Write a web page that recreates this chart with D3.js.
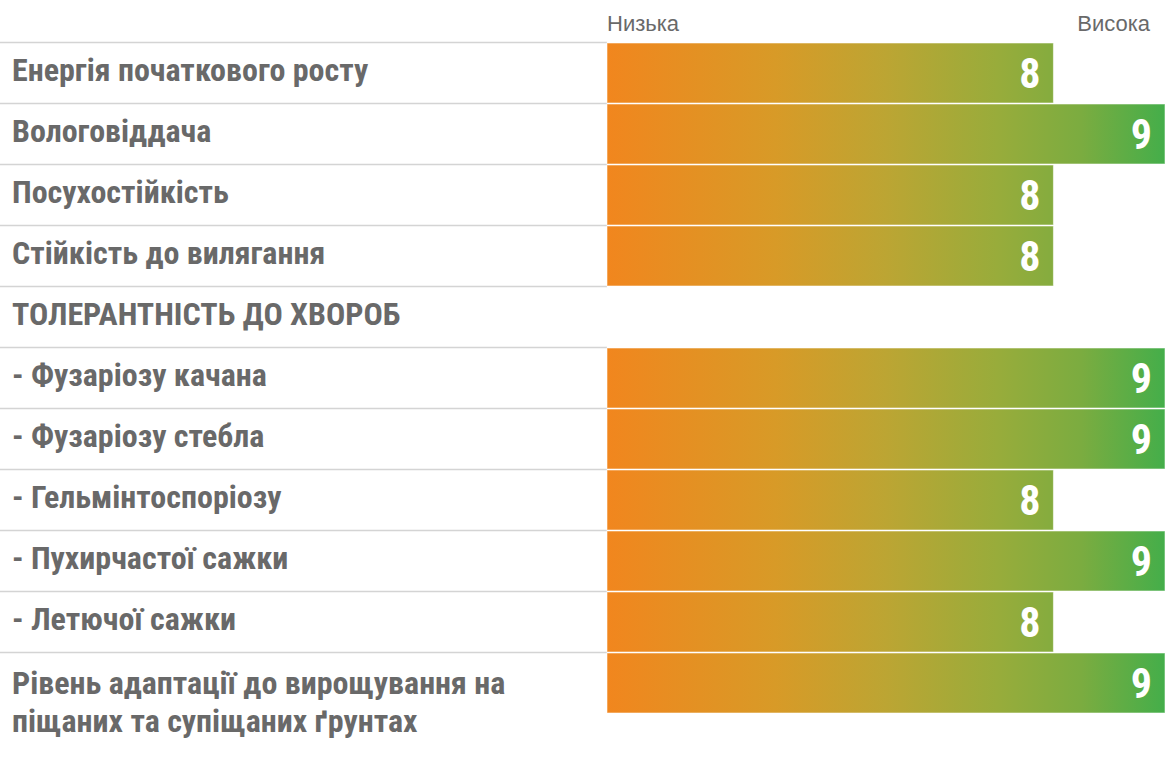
<!DOCTYPE html>
<html>
<head>
<meta charset="utf-8">
<script src="https://cdn.jsdelivr.net/npm/d3@7"></script>
<style>
  html, body { margin: 0; padding: 0; background: #ffffff; }
  svg { display: block; }
</style>
</head>
<body>
<svg id="chart" width="1171" height="757"></svg>
<script>
// ---- data ----
const categories = [
  "Енергія початкового росту",
  "Вологовіддача",
  "Посухостійкість",
  "Стійкість до вилягання",
  "ТОЛЕРАНТНІСТЬ ДО ХВОРОБ",
  "- Фузаріозу качана",
  "- Фузаріозу стебла",
  "- Гельмінтоспоріозу",
  "- Пухирчастої сажки",
  "- Летючої сажки",
  "Рівень адаптації до вирощування на|піщаних та супіщаних ґрунтах"
];
const values = [8, 9, 8, 8, null, 9, 9, 8, 9, 8, 9];
const scaleLabels = ["Низька", "Висока"];
const scaleDomain = [4, 9];

// ---- layout ----
const W = 1171, H = 757;
const top0 = 42, rowH = 61;
const barX0 = 607, barX1 = 1165;
const labelFont = "'Liberation Sans Narrow', 'Roboto Condensed', 'Arial Narrow', sans-serif";
const textColor = "#696969";

const svg = d3.select("#chart");

const x = d3.scaleLinear().domain(scaleDomain).range([barX0, barX1]);
const y = d3.scaleBand().domain(d3.range(categories.length)).range([top0, top0 + rowH * categories.length]).padding(0);

// gradient
const defs = svg.append("defs");
const grad = defs.append("linearGradient")
  .attr("id", "barGrad").attr("gradientUnits", "userSpaceOnUse")
  .attr("x1", x(scaleDomain[0])).attr("x2", x(scaleDomain[1])).attr("y1", 0).attr("y2", 0);
[[0, "#F1861E"], [0.3, "#D89A27"], [0.5, "#BCA533"], [0.7, "#98AC3B"], [0.85, "#7BAC40"], [1, "#44AE4A"]]
  .forEach(([o, c]) => grad.append("stop").attr("offset", o).attr("stop-color", c));

// header labels
svg.append("text").attr("x", barX0).attr("y", 31)
  .attr("font-family", "'Liberation Sans', Arial, sans-serif").attr("font-size", 22)
  .attr("fill", textColor).text(scaleLabels[0]);
svg.append("text").attr("x", 1150).attr("y", 31).attr("text-anchor", "end")
  .attr("font-family", "'Liberation Sans', Arial, sans-serif").attr("font-size", 22)
  .attr("fill", textColor).text(scaleLabels[1]);

// separators
svg.append("g").selectAll("line").data(d3.range(categories.length)).join("line")
  .attr("x1", 0).attr("x2", barX0)
  .attr("y1", d => y(d) + 0.5).attr("y2", d => y(d) + 0.5)
  .attr("stroke", "#d4d4d4").attr("stroke-width", 1.5);

// bars
const rows = categories.map((c, i) => ({ c, v: values[i], i }));
svg.append("g").selectAll("rect").data(rows.filter(d => d.v != null)).join("rect")
  .attr("x", x(scaleDomain[0]))
  .attr("y", d => y(d.i) + 1)
  .attr("width", d => x(d.v) - x(scaleDomain[0]))
  .attr("height", rowH - 1)
  .attr("fill", "url(#barGrad)")
  .attr("stroke", "rgba(255,255,255,0.55)").attr("stroke-width", 1);

// value labels
svg.append("g").selectAll("text").data(rows.filter(d => d.v != null)).join("text")
  .attr("x", d => x(d.v) - 13)
  .attr("y", d => y(d.i) + rowH / 2 + 15)
  .attr("text-anchor", "end")
  .attr("font-family", labelFont).attr("font-weight", "bold").attr("font-size", 42)
  .attr("fill", "#ffffff").text(d => d.v);

// category labels
const lab = svg.append("g").selectAll("text").data(rows).join("text")
  .attr("x", 12)
  .attr("font-family", labelFont).attr("font-weight", "bold").attr("font-size", 32)
  .attr("fill", textColor);
lab.each(function(d) {
  const lines = d.c.split("|");
  const t = d3.select(this);
  lines.forEach((ln, k) => {
    t.append("tspan").attr("x", 12)
      .attr("y", lines.length === 1 ? y(d.i) + rowH / 2 + 8 : y(d.i) + 42 + k * 38)
      .text(ln);
  });
});
</script>
</body>
</html>
